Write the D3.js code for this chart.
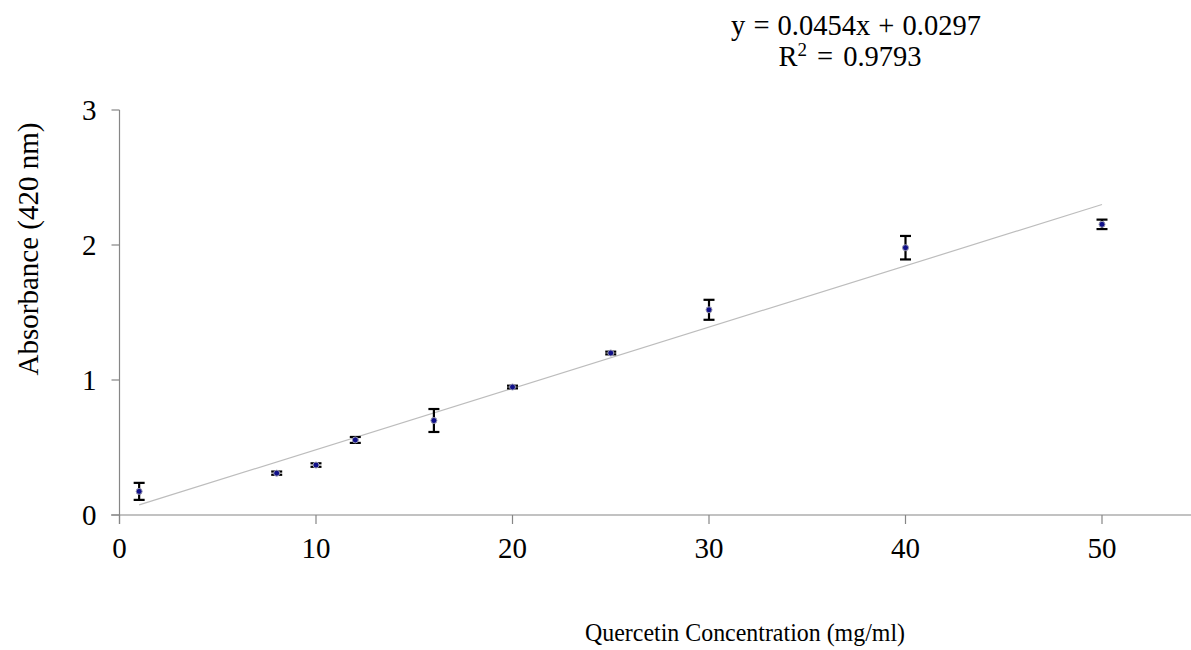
<!DOCTYPE html>
<html>
<head>
<meta charset="utf-8">
<script src="https://cdn.jsdelivr.net/npm/d3@7"></script>
<style>
  html, body { margin: 0; padding: 0; background: #fff; }
  svg { display: block; }
  text { font-family: "Liberation Serif", "Times New Roman", serif; fill: #000; }
</style>
</head>
<body>
<svg id="chart" width="1191" height="650"></svg>
<script>
// ---- data ----
const concentrations = [1, 8, 10, 12, 16, 20, 25, 30, 40, 50];
const absorbance     = [0.175, 0.31, 0.37, 0.556, 0.70, 0.948, 1.20, 1.52, 1.98, 2.153];
const errors         = [0.063, 0.012, 0.013, 0.022, 0.085, 0.01, 0.01, 0.074, 0.087, 0.035];
const xTicks = [0, 10, 20, 30, 40, 50];
const yTicks = [0, 1, 2, 3];
const slope = 0.0454, intercept = 0.0297;
const equationText = "y = 0.0454x + 0.0297";
const r2Text = "0.9793";
const xTitle = "Quercetin Concentration (mg/ml)";
const yTitle = "Absorbance (420 nm)";

// ---- layout ----
const svg = d3.select("#chart");
const x = d3.scaleLinear().domain([0, 50]).range([119.5, 1102]);
const y = d3.scaleLinear().domain([0, 3]).range([515, 110]);
const xEnd = 1191;

// axes
const gx = svg.append("g").attr("transform", `translate(0,${y(0)})`);
gx.append("line").attr("x1", 111).attr("x2", xEnd).attr("y1", 0).attr("y2", 0)
  .attr("stroke", "#868686").attr("stroke-width", 1.2);
gx.selectAll("line.tick").data(xTicks).join("line").attr("class", "tick")
  .attr("x1", d => x(d)).attr("x2", d => x(d)).attr("y1", 0).attr("y2", 9)
  .attr("stroke", "#868686").attr("stroke-width", 1.2);
gx.selectAll("text").data(xTicks).join("text")
  .attr("x", d => x(d)).attr("y", 43).attr("text-anchor", "middle")
  .attr("font-size", 29).text(d => d);

const gy = svg.append("g").attr("transform", `translate(${x(0)},0)`);
gy.append("line").attr("x1", 0).attr("x2", 0).attr("y1", y(3)).attr("y2", y(0) + 9)
  .attr("stroke", "#868686").attr("stroke-width", 1.2);
gy.selectAll("line.tick").data(yTicks).join("line").attr("class", "tick")
  .attr("x1", -8).attr("x2", 0).attr("y1", d => y(d)).attr("y2", d => y(d))
  .attr("stroke", "#868686").attr("stroke-width", 1.2);
gy.selectAll("text").data(yTicks).join("text")
  .attr("x", -23).attr("y", d => y(d)).attr("dy", "0.35em").attr("text-anchor", "end")
  .attr("font-size", 29).text(d => d);

// trendline
const tx = d3.extent(concentrations);
svg.append("line")
  .attr("x1", x(tx[0])).attr("y1", y(slope * tx[0] + intercept))
  .attr("x2", x(tx[1])).attr("y2", y(slope * tx[1] + intercept))
  .attr("stroke", "#bdbdbd").attr("stroke-width", 1.2);

// error bars
const pts = concentrations.map((c, i) => ({ c, a: absorbance[i], e: errors[i] }));
const eb = svg.append("g").attr("stroke", "#000").attr("stroke-width", 2.2);
eb.selectAll("line.v").data(pts).join("line").attr("class", "v")
  .attr("x1", d => x(d.c)).attr("x2", d => x(d.c))
  .attr("y1", d => y(d.a + d.e)).attr("y2", d => y(d.a - d.e));
eb.selectAll("line.t").data(pts).join("line").attr("class", "t")
  .attr("x1", d => x(d.c) - 5.5).attr("x2", d => x(d.c) + 5.5)
  .attr("y1", d => y(d.a + d.e)).attr("y2", d => y(d.a + d.e));
eb.selectAll("line.b").data(pts).join("line").attr("class", "b")
  .attr("x1", d => x(d.c) - 5.5).attr("x2", d => x(d.c) + 5.5)
  .attr("y1", d => y(d.a - d.e)).attr("y2", d => y(d.a - d.e));

// markers
svg.append("g").selectAll("circle").data(pts).join("circle")
  .attr("cx", d => x(d.c)).attr("cy", d => y(d.a)).attr("r", 3)
  .attr("fill", "#10108a").attr("stroke", "#9a9ab0").attr("stroke-width", 1);

// equation
svg.append("text").attr("x", 856).attr("y", 35).attr("text-anchor", "middle")
  .attr("font-size", 28.5).attr("word-spacing", 1).text(equationText);
const r2 = svg.append("text").attr("x", 850).attr("y", 66).attr("text-anchor", "middle")
  .attr("font-size", 28.5).attr("word-spacing", 3);
r2.append("tspan").text("R");
r2.append("tspan").attr("font-size", 19).attr("dy", -10).text("2");
r2.append("tspan").attr("dy", 10).text(" = " + r2Text);

// titles
svg.append("text").attr("transform", "translate(745,641) scale(0.92,1)")
  .attr("text-anchor", "middle").attr("font-size", 26).text(xTitle);
svg.append("text").attr("transform", "translate(38,249) rotate(-90)")
  .attr("text-anchor", "middle").attr("font-size", 29).text(yTitle);
</script>
</body>
</html>
